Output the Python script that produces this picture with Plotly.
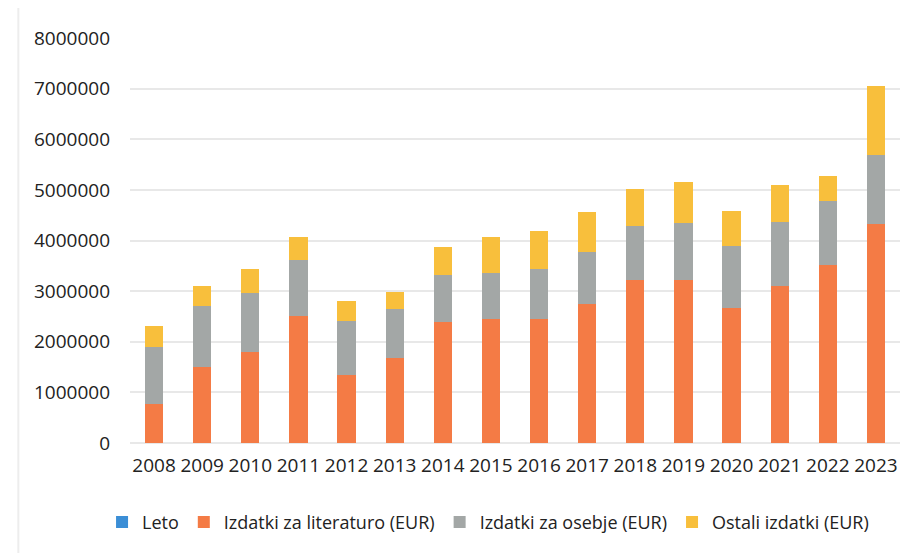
import plotly.graph_objects as go

years = [str(y) for y in range(2008, 2024)]
leto = [int(y) for y in years]
literatura = [760000, 1500000, 1790000, 2500000, 1350000, 1680000, 2390000, 2440000,
              2450000, 2740000, 3210000, 3210000, 2670000, 3100000, 3510000, 4320000]
osebje = [1130000, 1200000, 1180000, 1120000, 1060000, 960000, 930000, 920000,
          990000, 1030000, 1070000, 1140000, 1210000, 1260000, 1270000, 1360000]
ostali = [420000, 400000, 470000, 440000, 390000, 350000, 540000, 710000,
          740000, 790000, 740000, 800000, 700000, 740000, 490000, 1370000]

series = [
    ("Leto", leto, "#3B8ED6"),
    ("Izdatki za literaturo (EUR)", literatura, "#F47B45"),
    ("Izdatki za osebje (EUR)", osebje, "#A3A7A6"),
    ("Ostali izdatki (EUR)", ostali, "#F8BF3C"),
]

FONT = "Open Sans"
TEXT_COLOR = "#222222"

fig = go.Figure()
for name, values, color in series:
    fig.add_trace(go.Bar(x=years, y=values, name=name, marker_color=color,
                         marker_line_width=0))

# the page body adds ~8px, so margins are trimmed by that much
fig.update_layout(
    barmode="stack",
    bargap=0.62,
    width=913,
    height=553,
    paper_bgcolor="white",
    plot_bgcolor="white",
    margin={"l": 122, "r": 21, "t": 30, "b": 118},
    font={"family": FONT, "color": TEXT_COLOR, "size": 19},
    xaxis={
        "type": "category",
        "showgrid": False,
        "showline": False,
        "ticks": "",
        "ticklabelstandoff": 9,
        "tickfont": {"size": 19, "color": TEXT_COLOR},
    },
    yaxis={
        "range": [0, 8000000],
        "dtick": 1000000,
        "tickformat": "d",
        "showgrid": True,
        "gridcolor": "#E8E8E8",
        "gridwidth": 1.5,
        "zeroline": True,
        "zerolinecolor": "#E8E8E8",
        "zerolinewidth": 1.5,
        "showline": False,
        "ticks": "",
        "ticklabelstandoff": 19,
        "tickfont": {"size": 19, "color": TEXT_COLOR},
    },
    legend={
        "orientation": "h",
        "x": 0.465,
        "xanchor": "center",
        "yref": "container",
        "y": 0.07,
        "yanchor": "middle",
        "font": {"size": 18, "color": TEXT_COLOR},
        "itemwidth": 30,
        "traceorder": "normal",
    },
    showlegend=True,
)

fig.add_shape(type="line", xref="paper", yref="paper", x0=-0.145, x1=-0.145,
              y0=-0.3, y1=1.1, line={"color": "#EDEDED", "width": 2})

fig.write_html("out.html")
